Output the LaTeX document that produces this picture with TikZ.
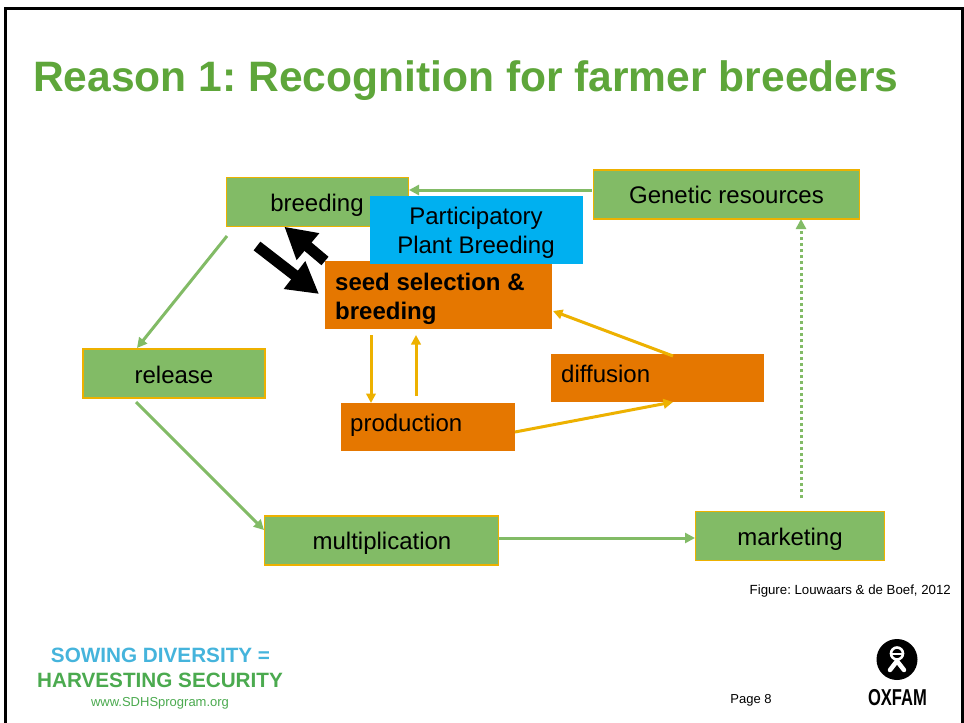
\documentclass[tikz,border=0pt]{standalone}
\usepackage{fontspec}
\setmainfont{Liberation Sans}
\usetikzlibrary{arrows.meta}
\definecolor{titlegreen}{HTML}{5EA63A}
\definecolor{boxgreen}{HTML}{82BB66}
\definecolor{boxorange}{HTML}{E57700}
\definecolor{boxblue}{HTML}{00B0F0}
\definecolor{linegold}{HTML}{EDB100}
\definecolor{sowblue}{HTML}{45B4DC}
\definecolor{sowgreen}{HTML}{4BAA4F}
\frenchspacing
\tikzset{
  x=1pt,y=-1pt,
  greenbox/.style={draw=linegold,line width=1.4pt,fill=boxgreen,inner sep=0pt},
  orangebox/.style={fill=boxorange,inner sep=0pt},
  greenline/.style={draw=boxgreen,line width=3pt,-{Triangle[length=10pt,width=10pt]}},
  goldline/.style={draw=linegold,line width=3pt,-{Triangle[length=9.5pt,width=9.5pt]}},
  bigarrow/.style={draw=black,line width=11pt,-{Triangle[length=31pt,width=33pt]}},
  lbl/.style={inner sep=0pt,anchor=base,font=\fontsize{24}{28}\selectfont},
}
\begin{document}
\begin{tikzpicture}
\useasboundingbox (0,0) rectangle (964,723);
\fill[white] (0,0) rectangle (964,723);
\draw[black,line width=2.6pt] (5.5,740) -- (5.5,8.5) -- (962.5,8.5) -- (962.5,740);
\node[inner sep=0pt,anchor=base west,text=titlegreen,font=\bfseries\fontsize{42.55}{50}\selectfont] (title) at (33,91) {Reason 1: Recognition for farmer breeders};

\node[greenbox,minimum width=182pt,minimum height=49pt] (breeding) at (317.5,202) {};
\node[lbl] (breedingT) at (317,211) {breeding};
\node[greenbox,minimum width=266pt,minimum height=49pt] (genetic) at (726.5,194.5) {};
\node[lbl] (geneticT) at (726.5,203) {Genetic resources};
\node[greenbox,minimum width=182pt,minimum height=49pt] (release) at (174,373.5) {};
\node[lbl] (releaseT) at (174,383) {release};
\node[greenbox,minimum width=234pt,minimum height=49pt] (multiplication) at (381.5,540.5) {};
\node[lbl] (multiplicationT) at (382,549) {multiplication};
\node[greenbox,minimum width=189pt,minimum height=49pt] (marketing) at (790,536) {};
\node[lbl] (marketingT) at (790,545) {marketing};

\node[orangebox,minimum width=227pt,minimum height=68pt] (seed) at (438.5,295) {};
\node[lbl,anchor=base west,font=\bfseries\fontsize{24}{28}\selectfont] (seedA) at (335,290) {seed selection \&};
\node[lbl,anchor=base west,font=\bfseries\fontsize{24}{28}\selectfont] (seedB) at (335,319) {breeding};
\node[orangebox,minimum width=174pt,minimum height=48pt] (production) at (428,427) {};
\node[lbl,anchor=base west] (productionT) at (350,431) {production};
\node[orangebox,minimum width=213pt,minimum height=48pt] (diffusion) at (657.5,378) {};
\node[lbl,anchor=base west] (diffusionT) at (561,382) {diffusion};

\node[fill=boxblue,minimum width=213pt,minimum height=68pt,inner sep=0pt] (ppb) at (476.5,230) {};
\node[lbl] (ppbA) at (476,224) {Participatory};
\node[lbl] (ppbB) at (476,253) {Plant Breeding};

\coordinate (a1) at (592,190); \coordinate (a2) at (409,190);
\draw[greenline] (a1) -- (a2);
\coordinate (b1) at (227,236); \coordinate (b2) at (137,348);
\draw[greenline] (b1) -- (b2);
\coordinate (c1) at (136,402); \coordinate (c2) at (264,530);
\draw[greenline] (c1) -- (c2);
\coordinate (d1) at (499,538); \coordinate (d2) at (695,538);
\draw[greenline] (d1) -- (d2);
\coordinate (e1) at (801,498); \coordinate (e2) at (801,219);
\draw[greenline,dash pattern=on 3pt off 3pt] (e1) -- (e2);

\coordinate (f1) at (371,335); \coordinate (f2) at (371,403);
\draw[goldline] (f1) -- (f2);
\coordinate (g1) at (416,396); \coordinate (g2) at (416,335);
\draw[goldline] (g1) -- (g2);
\coordinate (h1) at (515,432); \coordinate (h2) at (673,402);
\draw[goldline] (h1) -- (h2);
\coordinate (i1) at (673,356); \coordinate (i2) at (553,311);
\draw[goldline] (i1) -- (i2);

\coordinate (j1) at (257,246); \coordinate (j2) at (319,294);
\draw[bigarrow] (j1) -- (j2);
\coordinate (k1) at (325,261); \coordinate (k2) at (284.3,226.7);
\draw[bigarrow] (k1) -- (k2);

\node[inner sep=0pt,anchor=base east,font=\fontsize{13.25}{15}\selectfont] (fig) at (951,594) {Figure: Louwaars \& de Boef, 2012};
\node[inner sep=0pt,anchor=base,text=sowblue,font=\bfseries\fontsize{20.7}{24}\selectfont] (sow) at (160.5,662) {SOWING DIVERSITY =};
\node[inner sep=0pt,anchor=base,text=sowgreen,font=\bfseries\fontsize{20.7}{24}\selectfont] (harv) at (160,687) {HARVESTING SECURITY};
\node[inner sep=0pt,anchor=base,text=sowgreen,font=\fontsize{13}{15}\selectfont] (web) at (160,706) {www.SDHSprogram.org};
\node[inner sep=0pt,anchor=base,font=\fontsize{13}{15}\selectfont] (page) at (751,703) {Page 8};

\fill[black] (897,659.5) circle (20.5pt);
\draw[white,line width=2.6pt] (897,653.5) circle (6pt);
\draw[white,line width=1.5pt] (891,654) -- (903,654);
\draw[white,line width=4.5pt,line cap=round] (897,661) -- (890,670);
\draw[white,line width=4.5pt,line cap=round] (897,661) -- (904,670);
\node[inner sep=0pt,anchor=base,font=\bfseries\fontsize{23}{26}\selectfont] (oxfam) at (897.5,705) {\scalebox{0.72}[1]{OXFAM}};
\end{tikzpicture}
\end{document}
